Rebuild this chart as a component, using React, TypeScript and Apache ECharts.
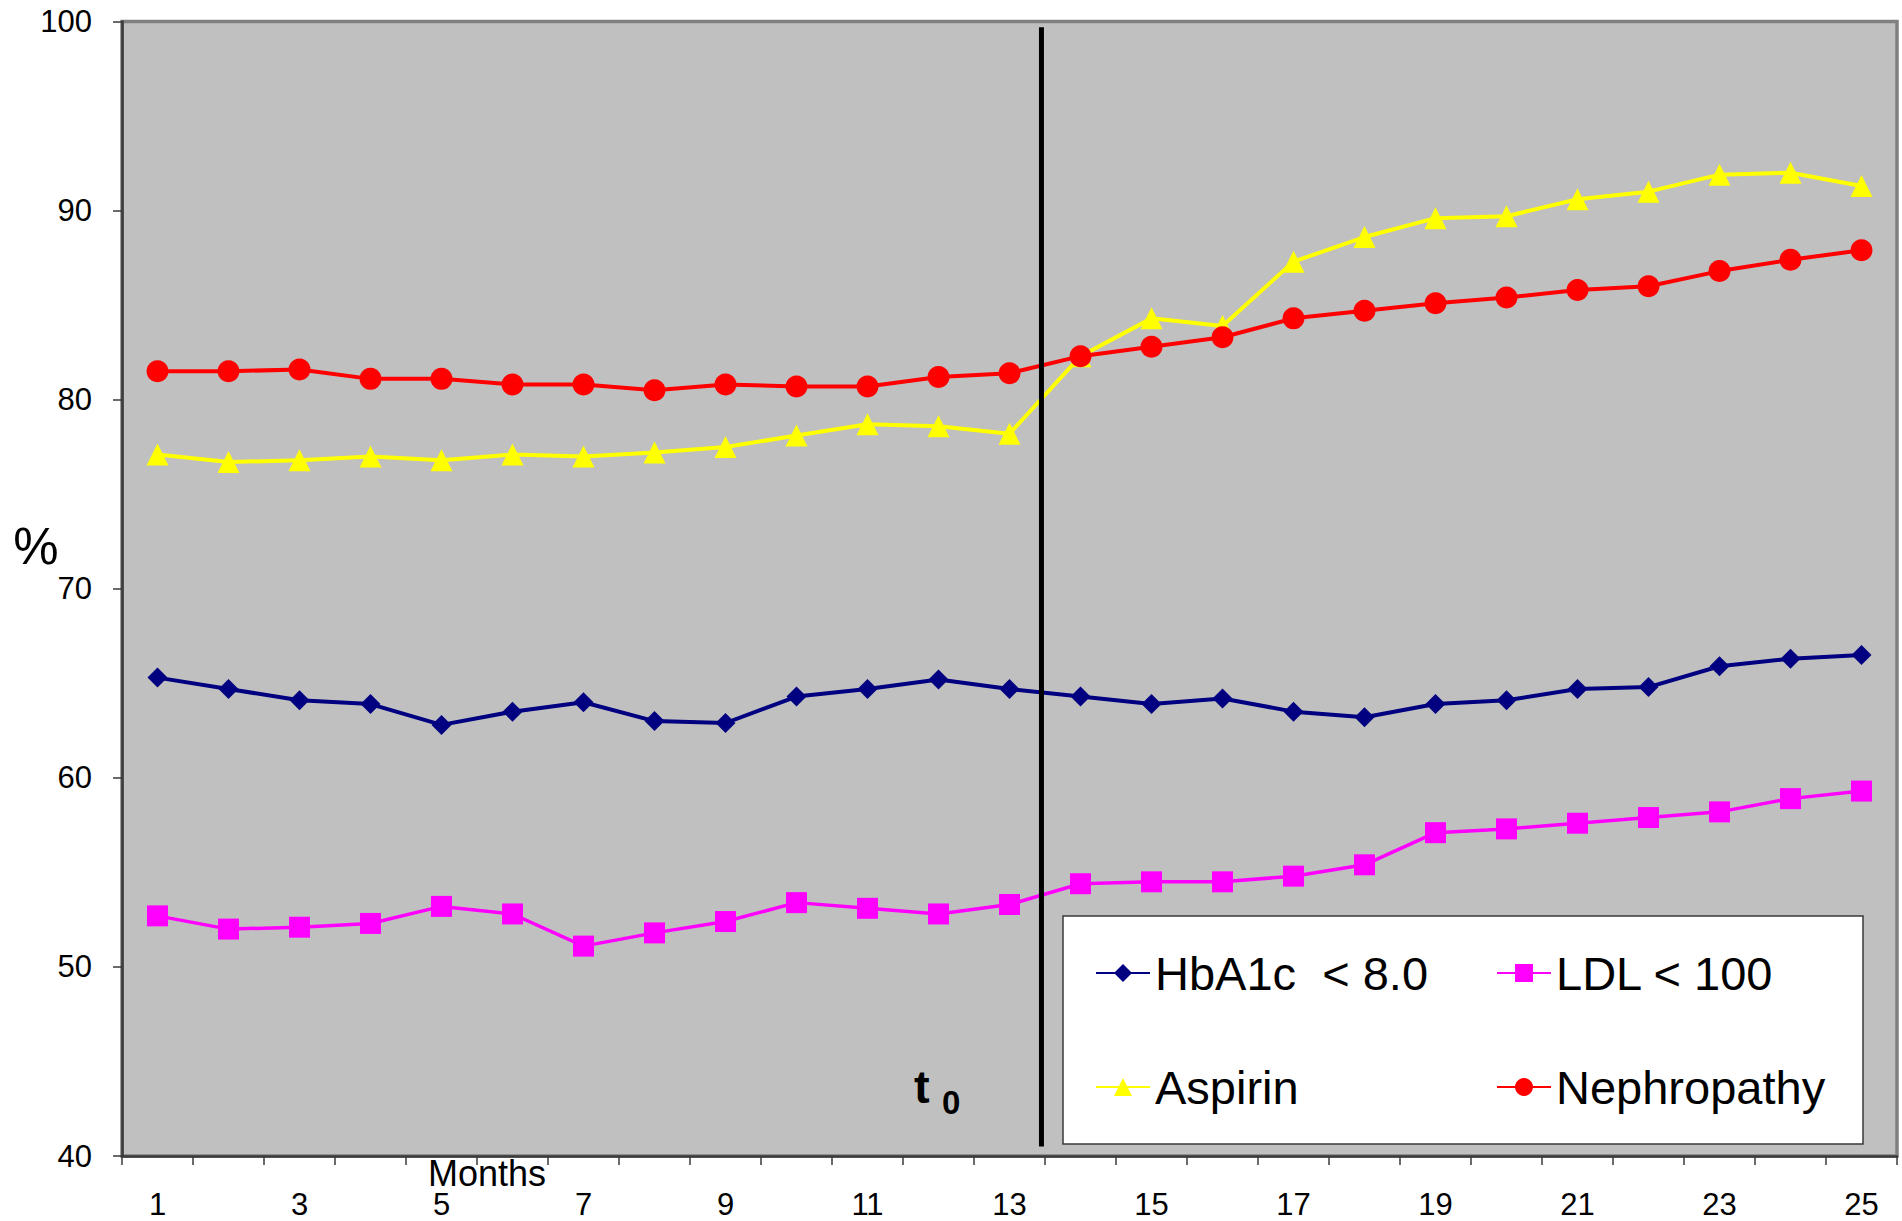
import React, { useEffect, useRef } from "react";
import * as echarts from "echarts";

// Month index along the x axis
const months: string[] = Array.from({ length: 25 }, (_, i) => String(i + 1));

// Percentage of patients meeting each indicator, per month
const hba1c: number[] = [
  65.3, 64.7, 64.1, 63.9, 62.8, 63.5, 64.0, 63.0, 62.9, 64.3, 64.7, 65.2, 64.7,
  64.3, 63.9, 64.2, 63.5, 63.2, 63.9, 64.1, 64.7, 64.8, 65.9, 66.3, 66.5,
];
const ldl: number[] = [
  52.7, 52.0, 52.1, 52.3, 53.2, 52.8, 51.1, 51.8, 52.4, 53.4, 53.1, 52.8, 53.3,
  54.4, 54.5, 54.5, 54.8, 55.4, 57.1, 57.3, 57.6, 57.9, 58.2, 58.9, 59.3,
];
const aspirin: number[] = [
  77.1, 76.7, 76.8, 77.0, 76.8, 77.1, 77.0, 77.2, 77.5, 78.1, 78.7, 78.6, 78.2,
  82.3, 84.3, 83.9, 87.3, 88.6, 89.6, 89.7, 90.6, 91.0, 91.9, 92.0, 91.3,
];
const nephropathy: number[] = [
  81.5, 81.5, 81.6, 81.1, 81.1, 80.8, 80.8, 80.5, 80.8, 80.7, 80.7, 81.2, 81.4,
  82.3, 82.8, 83.3, 84.3, 84.7, 85.1, 85.4, 85.8, 86.0, 86.8, 87.4, 87.9,
];

// Intervention start (between month 13 and 14) and the vertical extent of its marker
const t0Position = 13.45;
const t0Span: number[] = [99.7, 40.5];

// Y axis range
const yMin = 40;
const yMax = 100;
const yStep = 10;

const FONT = "'Liberation Sans', Arial, Helvetica, sans-serif";

export default function App() {
  const ref = useRef<HTMLDivElement>(null);

  useEffect(() => {
    if (!ref.current) return;
    const chart = echarts.init(ref.current, undefined, { renderer: "svg" });

    const seriesLine = (
      name: string,
      data: number[],
      color: string,
      symbol: string,
      symbolSize: number,
      width: number
    ) => ({
      name,
      type: "line",
      data,
      symbol,
      symbolSize,
      showAllSymbol: true,
      itemStyle: { color },
      lineStyle: { color, width },
      z: 2,
    });

    chart.setOption({
      animation: false,
      backgroundColor: "#ffffff",
      grid: {
        left: 122,
        top: 21.5,
        width: 1775,
        height: 1134.5,
        show: true,
        backgroundColor: "#C0C0C0",
        borderColor: "#808080",
        borderWidth: 3.5,
      },
      xAxis: [
        {
          type: "category",
          data: months,
          boundaryGap: true,
          axisLine: { show: true, lineStyle: { color: "#3a3a3a", width: 2.5 } },
          axisTick: { show: true, interval: 0, length: 9, lineStyle: { color: "#3a3a3a", width: 1.5 } },
          axisLabel: {
            interval: 1,
            fontSize: 31,
            color: "#000",
            fontFamily: FONT,
            margin: 33,
          },
          splitLine: { show: false },
        },
        {
          type: "value",
          min: 0.5,
          max: 25.5,
          show: false,
        },
      ],
      yAxis: {
        type: "value",
        min: yMin,
        max: yMax,
        interval: yStep,
        axisLine: { show: true, lineStyle: { color: "#3a3a3a", width: 2.5 } },
        axisTick: { show: true, length: 9, lineStyle: { color: "#3a3a3a", width: 1.5 } },
        axisLabel: { fontSize: 31, color: "#000", fontFamily: FONT, margin: 30 },
        splitLine: { show: false },
      },
      legend: [
        {
          data: ["HbA1c  < 8.0", "Aspirin"],
          orient: "vertical",
          left: 1095,
          top: 945,
          padding: 0,
          itemGap: 58,
          itemWidth: 54,
          itemHeight: 22.5,
          selectedMode: false,
          textStyle: { fontSize: 47, color: "#000", fontFamily: FONT, lineHeight: 56 },
          z: 6,
        },
        {
          data: ["LDL < 100", "Nephropathy"],
          orient: "vertical",
          left: 1496,
          top: 945,
          padding: 0,
          itemGap: 58,
          itemWidth: 54,
          itemHeight: 22.5,
          selectedMode: false,
          textStyle: { fontSize: 47, color: "#000", fontFamily: FONT, lineHeight: 56 },
          z: 6,
        },
      ],
      graphic: [
        {
          type: "rect",
          z: 5,
          shape: { x: 1063, y: 916, width: 800, height: 228 },
          style: { fill: "#ffffff", stroke: "#3a3a3a", lineWidth: 1.5 },
        },
        {
          type: "text",
          z: 7,
          x: 36,
          y: 546,
          style: {
            text: "%",
            fontSize: 51,
            fontFamily: FONT,
            fill: "#000",
            textAlign: "center",
            textVerticalAlign: "middle",
          },
        },
        {
          type: "text",
          z: 7,
          x: 487,
          y: 1173,
          style: {
            text: "Months",
            fontSize: 36,
            fontFamily: FONT,
            fill: "#000",
            textAlign: "center",
            textVerticalAlign: "middle",
          },
        },
        {
          type: "text",
          z: 7,
          x: 914,
          y: 1086,
          style: {
            text: "t",
            fontSize: 47,
            fontWeight: "bold",
            fontFamily: FONT,
            fill: "#000",
            textAlign: "left",
            textVerticalAlign: "middle",
          },
        },
        {
          type: "text",
          z: 7,
          x: 942,
          y: 1102,
          style: {
            text: "0",
            fontSize: 33,
            fontWeight: "bold",
            fontFamily: FONT,
            fill: "#000",
            textAlign: "left",
            textVerticalAlign: "middle",
          },
        },
      ],
      series: [
        seriesLine("HbA1c  < 8.0", hba1c, "#000080", "diamond", 20, 4),
        seriesLine("LDL < 100", ldl, "#FF00FF", "rect", 21, 3.5),
        seriesLine("Aspirin", aspirin, "#FFFF00", "triangle", 22, 4),
        seriesLine("Nephropathy", nephropathy, "#FF0000", "circle", 22, 4),
        {
          name: "t0",
          type: "line",
          xAxisIndex: 1,
          data: [
            [t0Position, t0Span[0]],
            [t0Position, t0Span[1]],
          ],
          showSymbol: false,
          symbol: "none",
          lineStyle: { color: "#000", width: 5 },
          z: 3,
          silent: true,
        },
      ],
    });

    return () => chart.dispose();
  }, []);

  return (
    <div
      ref={ref}
      style={{ position: "absolute", left: 0, top: 0, width: 1902, height: 1221, background: "#fff" }}
    />
  );
}
